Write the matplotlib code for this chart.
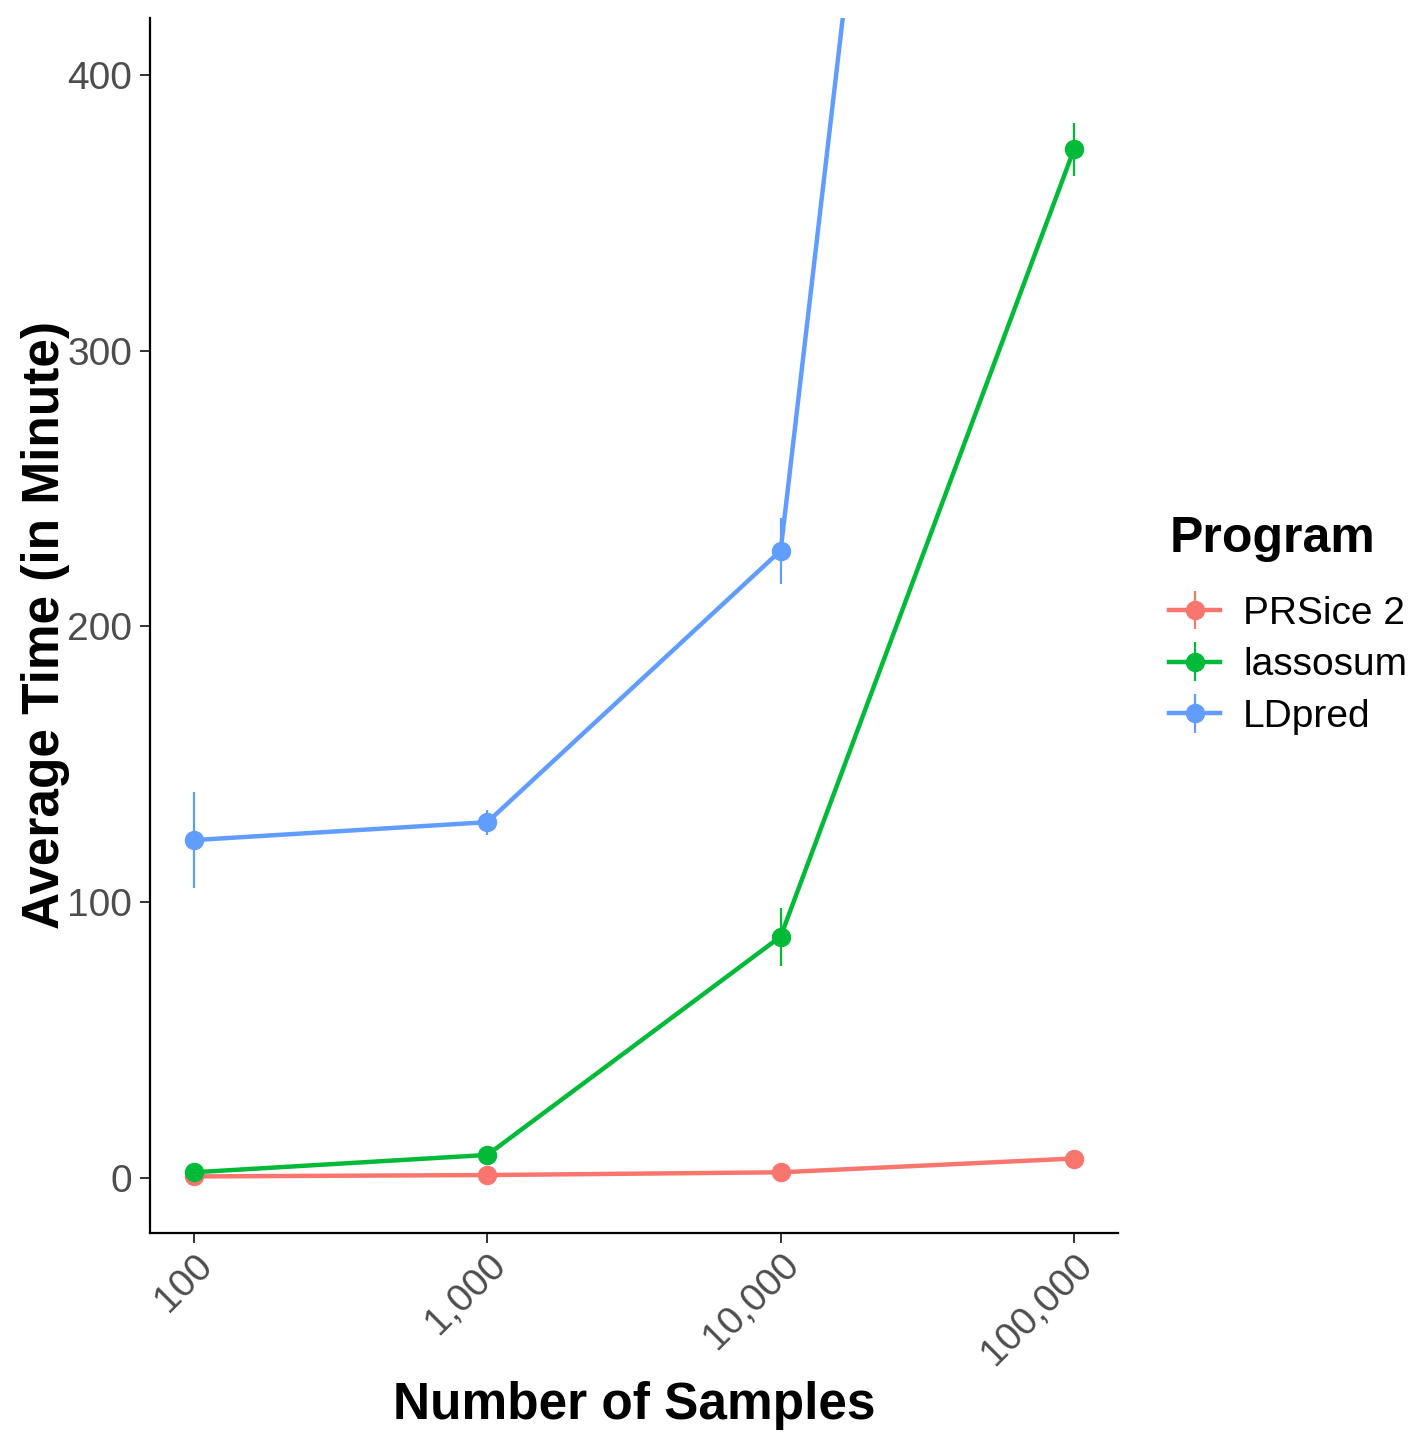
import numpy as np
import matplotlib
matplotlib.use("Agg")
import matplotlib.pyplot as plt
from matplotlib.ticker import FixedLocator, NullLocator

plt.rcParams['font.family'] = ['Liberation Sans', 'DejaVu Sans']

samples = [100, 1000, 10000, 100000]
tick_labels = ["100", "1,000", "10,000", "100,000"]
programs = ["PRSice 2", "lassosum", "LDpred"]
colors = ["#F8766D", "#00BA38", "#619CFF"]

prsice_mean = [0.5, 1.0, 2.0, 7.0]
prsice_err = [0.3, 0.3, 0.5, 0.8]
lassosum_mean = [2.0, 8.3, 87.5, 373.0]
lassosum_err = [0.5, 1.0, 10.5, 9.5]
ldpred_mean = [122.5, 129.0, 227.5, 1140.0]
ldpred_err = [17.5, 4.5, 12.0, 30.0]

means = [prsice_mean, lassosum_mean, ldpred_mean]
errs = [prsice_err, lassosum_err, ldpred_err]

fig = plt.figure(figsize=(14.16, 14.36), dpi=100)
ax = fig.add_axes([0.106, 0.1414, 0.6835, 0.8461])

for name, col, m, e in zip(programs, colors, means, errs):
    ax.errorbar(samples, m, yerr=e, fmt='-o', color=col, lw=3.2,
                markersize=13, elinewidth=1.6, capsize=0, label=name)

ax.set_xscale('log')
ax.set_xlim(10 ** 1.85, 10 ** 5.15)
ax.set_ylim(-20, 420.7)
ax.xaxis.set_major_locator(FixedLocator(samples))
ax.xaxis.set_minor_locator(NullLocator())
ax.set_xticklabels(tick_labels, rotation=45, ha='right', va='top',
                   rotation_mode='anchor')
ax.set_yticks([0, 100, 200, 300, 400])

for s in ['top', 'right']:
    ax.spines[s].set_visible(False)
for s in ['left', 'bottom']:
    ax.spines[s].set_linewidth(1.6)
ax.tick_params(axis='both', length=7, width=1.4, color='#333333',
               labelsize=28, labelcolor='#4D4D4D', pad=6)
ax.tick_params(axis='x', pad=3)

ax.set_xlabel("Number of Samples", fontsize=37, fontweight='bold', labelpad=7)
ax.set_ylabel("Average Time (in Minute)", fontsize=37, fontweight='bold', labelpad=-2)

leg = ax.legend(title="Program", loc='center left', bbox_to_anchor=(1.037, 0.5),
                frameon=False, fontsize=28, title_fontsize=36,
                handlelength=1.3, handletextpad=0.6, labelspacing=0.4,
                borderaxespad=0.0)
leg.get_title().set_fontweight('bold')
leg._legend_box.align = 'left'
leg._legend_box.sep = 24

fig.savefig("out.png", dpi=100, facecolor='white')
